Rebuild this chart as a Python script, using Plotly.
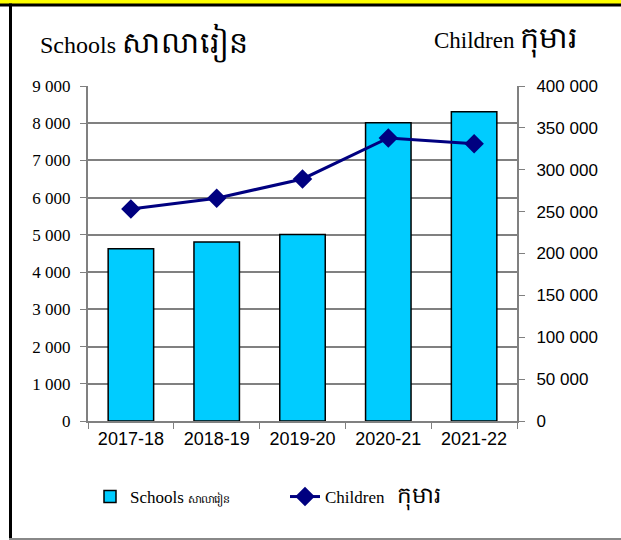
import plotly.graph_objects as go

years = ["2017-18", "2018-19", "2019-20", "2020-21", "2021-22"]
schools = [4630, 4810, 5010, 8010, 8310]
children = [253000, 266000, 289000, 338000, 331000]

W, H = 621, 540
L, R, T, B = 88, 104, 86, 119
SERIF = "Times New Roman, Liberation Serif, DejaVu Serif, serif"
SANS = "Arial, Liberation Sans, sans-serif"


def px(x):
    return (x - L) / (W - L - R)


def py(y):
    return (H - B - y) / (H - T - B)


fig = go.Figure()
fig.add_trace(go.Bar(
    x=years, y=schools, name="Schools <span style='font-size:11px'>សាលារៀន</span>",
    marker=dict(color="#00CCFF", line=dict(color="black", width=1.5)),
    width=0.53, yaxis="y"
))
fig.add_trace(go.Scatter(
    x=years, y=children, name="Children&nbsp;&nbsp; <span style='font-size:23px'>កុមារ</span>",
    mode="lines+markers", yaxis="y2",
    line=dict(color="#000080", width=3),
    marker=dict(symbol="diamond", size=15, color="#000080")
))

shapes = [
    dict(type="rect", xref="paper", yref="paper", x0=px(0), x1=px(W), y0=py(4), y1=py(0),
         fillcolor="#FFFF00", line_width=0, layer="above"),
    dict(type="rect", xref="paper", yref="paper", x0=px(0), x1=px(W), y0=py(6.5), y1=py(3.5),
         fillcolor="black", line_width=0, layer="above"),
    dict(type="rect", xref="paper", yref="paper", x0=px(9), x1=px(12), y0=py(538), y1=py(3.5),
         fillcolor="black", line_width=0, layer="above"),
    dict(type="rect", xref="paper", yref="paper", x0=px(9), x1=px(W), y0=py(540), y1=py(538),
         fillcolor="#888888", line_width=0, layer="above"),
]

annotations = [
    dict(text="Schools <span style='font-size:30px'>សាលារៀន</span>", x=px(38), y=py(43),
         xref="paper", yref="paper", xanchor="left", yanchor="middle", showarrow=False,
         font=dict(family=SERIF, size=24, color="black")),
    dict(text="Children <span style='font-size:30px'>កុមារ</span>", x=px(432), y=py(39),
         xref="paper", yref="paper", xanchor="left", yanchor="middle", showarrow=False,
         font=dict(family=SERIF, size=23, color="black")),
]

fig.update_layout(
    width=W, height=H,
    margin=dict(l=L, r=R, t=T, b=B, pad=0),
    paper_bgcolor="white", plot_bgcolor="white",
    separators=". ",
    bargap=0.47,
    shapes=shapes, annotations=annotations,
    showlegend=True,
    legend=dict(orientation="h", x=px(90), y=py(497), xanchor="left", yanchor="middle",
                font=dict(family=SERIF, size=17, color="black"),
                entrywidth=150, bgcolor="rgba(0,0,0,0)", traceorder="normal"),
    xaxis=dict(
        showline=True, linecolor="#808080", linewidth=2,
        ticks="outside", tickson="boundaries", ticklen=6, tickcolor="#808080",
        tickfont=dict(family=SANS, size=18, color="black"),
        showgrid=False,
    ),
    yaxis=dict(
        range=[0, 9000], dtick=1000, tickformat=",d",
        showline=True, linecolor="#808080", linewidth=2,
        ticks="outside", ticklen=6, tickcolor="#808080",
        ticklabelstandoff=6,
        showgrid=True, gridcolor="#808080", gridwidth=1.5,
        zeroline=False,
        tickfont=dict(family=SERIF, size=17, color="black"),
    ),
    yaxis2=dict(
        range=[0, 400000], dtick=50000, tickformat=",d",
        overlaying="y", side="right",
        showline=True, linecolor="#808080", linewidth=2,
        ticks="outside", ticklen=6, tickcolor="#808080",
        ticklabelstandoff=8,
        showgrid=False, zeroline=False,
        tickfont=dict(family=SANS, size=17, color="black"),
    ),
)

fig.write_html("out.html", config={"displayModeBar": False},
               post_script="document.body.style.margin='0';")
